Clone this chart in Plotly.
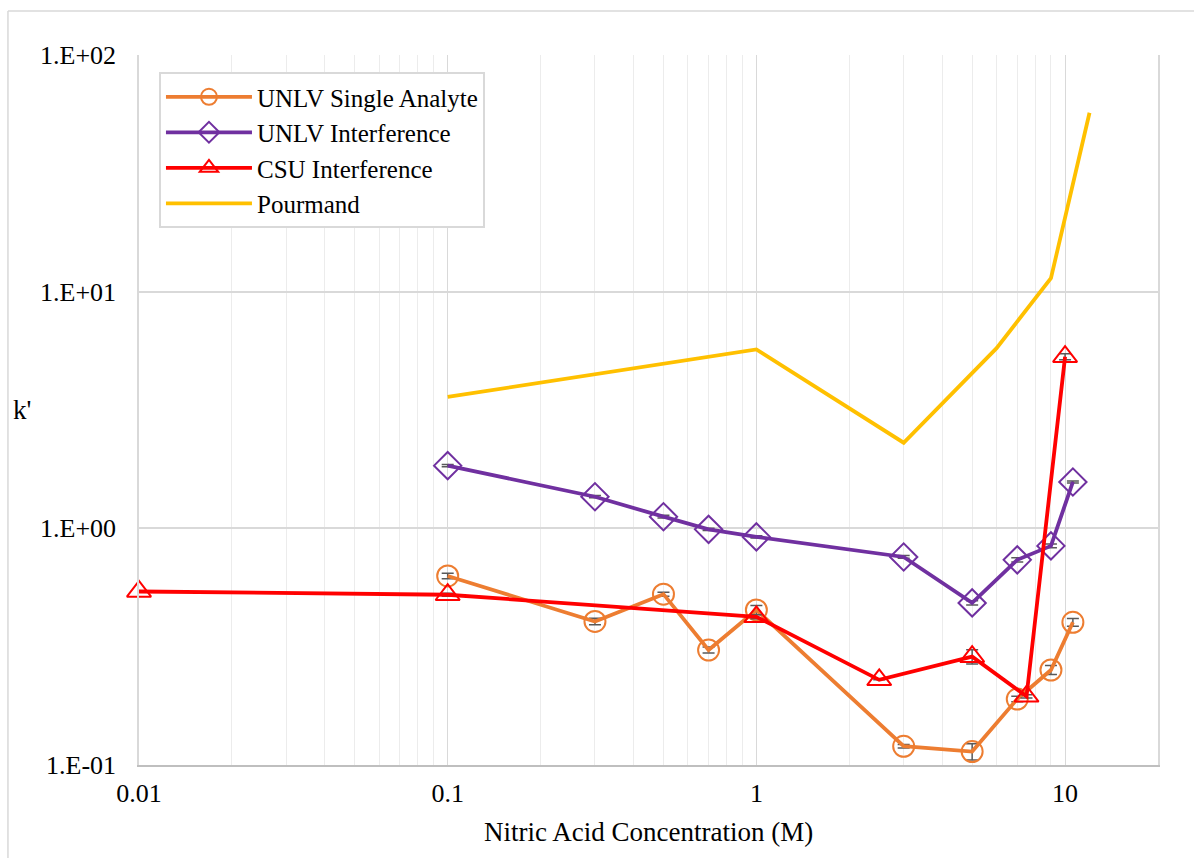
import plotly.graph_objects as go

# Nitric acid concentration (M) and retention factor k'
unlv_single_x = [0.1, 0.3, 0.5, 0.7, 1, 3, 5, 7, 9, 10.6]
unlv_single_y = [0.629, 0.404, 0.527, 0.306, 0.452, 0.120, 0.114, 0.190, 0.252, 0.401]
unlv_single_err = [0.017, 0.013, 0.010, 0.009, 0.020, 0.002, 0.009, 0.005, 0.011, 0.015]

unlv_interf_x = [0.1, 0.3, 0.5, 0.7, 1, 3, 5, 7, 9, 10.6]
unlv_interf_y = [1.84, 1.36, 1.12, 0.99, 0.92, 0.757, 0.484, 0.736, 0.843, 1.57]
unlv_interf_err = [0.02, 0.015, 0.015, 0.01, 0.01, 0.01, 0.01, 0.015, 0.015, 0.015]

csu_interf_x = [0.01, 0.1, 1, 2.5, 5, 7.5, 10]
csu_interf_y = [0.541, 0.524, 0.423, 0.229, 0.287, 0.195, 5.31]
csu_interf_err = [0.0, 0.008, 0.008, 0.0, 0.02, 0.003, 0.15]

pourmand_x = [0.1, 1, 3, 6, 9, 12]
pourmand_y = [3.59, 5.7, 2.30, 5.77, 11.4, 57.0]

x_tick_vals = [0.01, 0.1, 1, 10]
x_tick_text = ["0.01", "0.1", "1", "10"]
y_tick_vals = [0.1, 1, 10, 100]
y_tick_text = ["1.E-01", "1.E+00", "1.E+01", "1.E+02"]

FONT = "Times New Roman, Liberation Serif, DejaVu Serif, serif"
ERR_COLOR = "#595959"


def err(values):
    return dict(type="data", array=values, symmetric=True, color=ERR_COLOR,
                thickness=1.5, width=6)


fig = go.Figure()

fig.add_trace(go.Scatter(
    x=unlv_single_x, y=unlv_single_y, name="UNLV Single Analyte",
    mode="lines+markers", error_y=err(unlv_single_err), cliponaxis=False,
    line=dict(color="#ED7D31", width=3.8),
    marker=dict(symbol="circle-open", size=21, color="#ED7D31",
                line=dict(width=2, color="#ED7D31")),
))
fig.add_trace(go.Scatter(
    x=unlv_interf_x, y=unlv_interf_y, name="UNLV Interference",
    mode="lines+markers", error_y=err(unlv_interf_err), cliponaxis=False,
    line=dict(color="#7030A0", width=3.8),
    marker=dict(symbol="diamond-open", size=21, color="#7030A0",
                line=dict(width=2, color="#7030A0")),
))
fig.add_trace(go.Scatter(
    x=csu_interf_x, y=csu_interf_y, name="CSU Interference",
    mode="lines+markers", error_y=err(csu_interf_err), cliponaxis=False,
    line=dict(color="#FF0000", width=3.8),
    marker=dict(symbol="triangle-up-open", size=21, color="#FF0000",
                line=dict(width=2, color="#FF0000")),
))
fig.add_trace(go.Scatter(
    x=pourmand_x, y=pourmand_y, name="Pourmand",
    mode="lines", line=dict(color="#FFC000", width=3.8),
))

minor_vals = [m * d for d in (0.01, 0.1, 1, 10) for m in range(2, 10) if m * d <= 20]

fig.update_xaxes(
    type="log", range=[-2, 1.30103],
    tickvals=x_tick_vals, ticktext=x_tick_text,
    showgrid=True, gridcolor="#d9d9d9", gridwidth=1,
    minor=dict(tickvals=minor_vals, showgrid=True, gridcolor="#ececec", gridwidth=1),
    showline=True, linecolor="#bfbfbf", linewidth=2,
    ticks="", ticklabelstandoff=4,
    tickfont=dict(family=FONT, size=26, color="#000000"),
    zeroline=False,
)
fig.update_yaxes(
    type="log", range=[-1, 2],
    tickvals=y_tick_vals, ticktext=y_tick_text,
    showgrid=True, gridcolor="#d9d9d9", gridwidth=1.5,
    showline=True, linecolor="#d9d9d9", linewidth=1.5, mirror=True,
    ticks="", ticklabelstandoff=16,
    tickfont=dict(family=FONT, size=26, color="#000000"),
    zeroline=False,
)

fig.add_annotation(
    text="k'", xref="paper", yref="paper", x=-0.1148, y=0.5,
    xanchor="center", yanchor="middle", showarrow=False,
    font=dict(family=FONT, size=27, color="#000000"),
)
fig.add_annotation(
    text="Nitric Acid Concentration (M)", xref="paper", yref="paper",
    x=0.5, y=-0.0944, xanchor="center", yanchor="middle", showarrow=False,
    font=dict(family=FONT, size=27, color="#000000"),
)

# outer chart frame (left and top edges)
fig.add_shape(type="line", xref="paper", yref="paper",
              x0=-0.1286, x1=-0.1286, y0=-0.2, y1=1.062,
              line=dict(color="#d9d9d9", width=1.5))
fig.add_shape(type="line", xref="paper", yref="paper",
              x0=-0.1286, x1=1.1, y0=1.062, y1=1.062,
              line=dict(color="#d9d9d9", width=1.5))

fig.update_layout(
    width=1194, height=858,
    margin=dict(l=139, r=36, t=55, b=93),
    paper_bgcolor="#ffffff", plot_bgcolor="#ffffff",
    font=dict(family=FONT, size=26, color="#000000"),
    showlegend=True,
    legend=dict(
        x=0.0196, y=0.976, xanchor="left", yanchor="top",
        bgcolor="#ffffff", bordercolor="#d9d9d9", borderwidth=2,
        font=dict(family=FONT, size=25, color="#000000"),
        itemwidth=86, tracegroupgap=0,
    ),
)

fig.write_html("out.html")
